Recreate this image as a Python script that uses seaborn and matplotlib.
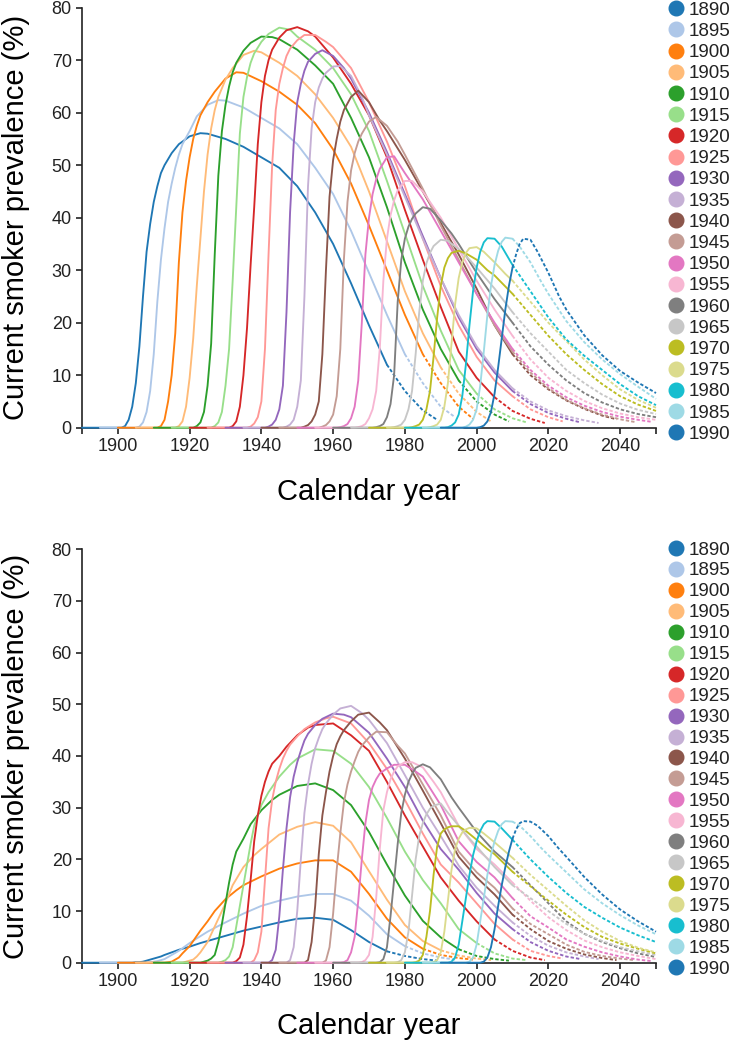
import pandas as pd
import matplotlib
matplotlib.use("Agg")
import matplotlib.pyplot as plt
from matplotlib.lines import Line2D
import seaborn as sns

# ---------- data ----------
cohorts = [1890, 1895, 1900, 1905, 1910, 1915, 1920, 1925, 1930, 1935, 1940,
           1945, 1950, 1955, 1960, 1965, 1970, 1975, 1980, 1985, 1990]

# age at which each value is read (calendar year = cohort + age)
ages = [0, 10, 11, 12, 13, 14, 15, 16, 17, 18, 19, 20, 21, 22, 23,
        25, 27, 30, 33, 35, 40, 45, 50, 55, 60, 65, 70, 75, 80, 85, 90, 95, 99]

# upper panel, prevalence (%): age 0 | ages 10-23 | 25 27 30 33 35 | 40 ... 99
top = {
    1890: [0, 0, 0, 0.3, 1.5, 4, 8.5, 15.5, 25, 33.5, 38.8, 43, 46, 48.5, 50,
           52.3, 54, 55.5, 56.1, 56, 55, 53.5, 51.5, 49.5, 46, 41, 35, 27.5, 19.5, 12, 7, 3.3, 1.5],
    1895: [0, 0, 0.2, 1, 3, 7, 14, 24, 32, 38, 43, 46.5, 49.5, 52, 54,
           56.5, 59.3, 61.5, 62.4, 62.3, 61, 59, 57, 54, 49.5, 44.5, 37.5, 29.5, 21.5, 14, 8.5, 4, 2],
    1900: [0, 0, 0, 0.3, 1.5, 5, 10, 18, 31.5, 41, 47, 51.5, 55, 57.5, 59.5,
           62, 64, 66.5, 67.7, 67.6, 66, 64, 61.5, 58, 53, 46.5, 38.5, 30, 21.5, 14, 8.5, 4, 1.7],
    1905: [0, 0, 0, 0.3, 1.2, 4, 9.5, 17, 27, 36, 45, 52, 57, 60.5, 63,
           66.3, 68.5, 71, 71.8, 71.5, 69.5, 67, 63.5, 59, 53.5, 45, 35.5, 26, 18, 11.5, 6.5, 3, 1.2],
    1910: [0, 0, 0, 0.3, 1, 3, 8, 16, 33, 48, 56.5, 61.5, 65, 67.7, 69.5,
           71.8, 73.3, 74.5, 74.4, 74, 72, 69, 65.5, 59, 51.5, 42, 31.5, 22.5, 15, 9, 5, 2.5, 1.2],
    1915: [0, 0, 0, 0.3, 1, 3, 8, 15, 28, 42, 56, 63, 66.8, 69.5, 71.3,
           73.5, 75, 76.2, 75.8, 74.5, 72, 68.5, 63.5, 56.5, 47, 37, 27, 18.5, 11, 6.5, 3.5, 1.8, 1],
    1920: [0, 0, 0, 0.3, 1.2, 4, 10, 19, 31, 42, 54, 62, 67, 70, 72,
           74.3, 75.7, 76.3, 75.5, 74.5, 70.5, 65.5, 59.5, 51.5, 41.5, 32, 23, 14.5, 9.5, 5.8, 3.2, 1.7, 0.9],
    1925: [0, 0, 0, 0.2, 0.8, 2, 5, 15, 33, 50, 60.5, 65.5, 68.5, 70.8, 72.2,
           73.8, 74.8, 74.8, 73.5, 72.5, 68.5, 62, 54.5, 46, 36, 27, 19.5, 13.5, 9, 6, 3.5, 2, 1.2],
    1930: [0, 0, 0, 0.2, 0.6, 1.5, 3.5, 8, 22, 41, 54, 62, 65.5, 68, 69.7,
           71.2, 71.9, 70.8, 68.5, 66.5, 60, 52.5, 44.5, 36.5, 28.5, 21, 15, 10.5, 7, 4.5, 2.8, 1.7, 1],
    1935: [0, 0, 0, 0.2, 0.6, 1.5, 4, 9, 25, 46, 57, 62, 64.8, 66.5, 67.6,
           68.8, 68.9, 67, 63, 59.5, 52, 44, 36, 28.5, 21.5, 15.5, 11, 7.5, 5, 3.3, 2.2, 1.4, 0.9],
    1940: [0, 0, 0, 0.2, 0.5, 1.2, 2.5, 5, 14, 30, 44, 51, 55, 58.3, 60.5,
           63, 64.2, 62, 58.5, 56.5, 51, 45, 39, 33, 26.5, 19.5, 14, 10, 7.3, 5.2, 3.6, 2.3, 1.6],
    1945: [0, 0, 0, 0.2, 0.5, 1.2, 2.5, 6, 15, 32, 43, 49, 52.3, 54.5, 56,
           58.3, 59.2, 57.5, 54.5, 52, 45.5, 38.5, 32, 25.5, 19.5, 14.5, 10.5, 7.5, 5.3, 3.7, 2.5, 1.6, 1.1],
    1950: [0, 0, 0, 0.1, 0.3, 0.7, 1.8, 4, 9, 20, 33, 40, 44.5, 47.3, 49.3,
           51.5, 51.7, 48.5, 45.5, 43.5, 37.5, 31.5, 25.5, 20, 15, 11, 8, 5.8, 4.2, 3, 2.1, 1.5, 1.1],
    1955: [0, 0, 0, 0.1, 0.3, 0.7, 1.8, 3.5, 7, 15, 28, 36, 40.5, 43.3, 45.2,
           47, 47, 45, 42, 40, 34, 28, 22.5, 17.5, 13, 9.5, 7, 5.1, 3.7, 2.7, 2, 1.5],
    1960: [0, 0, 0, 0.1, 0.3, 0.7, 2, 4.5, 10, 24, 32, 36, 38.3, 39.8, 40.8,
           42, 41.7, 39.5, 37, 35, 29.5, 24.5, 20, 15.5, 12, 9, 6.6, 4.8, 3.5, 2.6, 2],
    1965: [0, 0, 0, 0.1, 0.3, 0.6, 1.5, 3.5, 7, 14, 22, 28, 31.3, 33.3, 34.6,
           35.8, 35.6, 34, 32, 30.5, 26.5, 22, 18, 14.5, 11, 8.5, 6.3, 4.6, 3.4, 2.6],
    1970: [0, 0, 0, 0.1, 0.3, 0.6, 1.5, 3.5, 7, 13.5, 21, 27, 30.5, 32.3, 33.3,
           33.7, 33.2, 32, 30, 29, 25.5, 21.5, 17.5, 14, 11, 8.3, 6, 4.4, 3.2],
    1975: [0, 0, 0, 0.1, 0.3, 0.6, 1.5, 4, 8.5, 16, 23.5, 28.5, 31.5, 33.3, 34.2,
           34.4, 33.5, 31.5, 29.3, 28, 24, 20, 16.5, 13, 10, 7.3, 5.3, 3.8],
    1980: [0, 0, 0, 0.1, 0.4, 1, 2.5, 6, 12, 19.5, 26, 30.5, 33.5, 35.3, 36.1,
           36, 34.5, 31, 28, 26, 21, 16.8, 13.7, 11, 8.3, 6, 4.3],
    1985: [0, 0, 0, 0.2, 0.6, 1.5, 3.5, 8, 14.5, 21.5, 27, 31, 33.7, 35.4, 36.2,
           36, 34.5, 31.5, 27.8, 25.5, 20.3, 16.3, 13, 10.2, 7.8, 5.5],
    1990: [0, 0, 0.1, 0.4, 1.2, 3, 6.5, 11.5, 17, 22.5, 27, 30.5, 33, 35, 36,
           35.8, 33.5, 29.5, 25, 22.5, 17.6, 13.8, 10.8, 8.6, 6.6],
}

# lower panel, prevalence (%): same ages
bottom = {
    1890: [0, 0, 0, 0, 0, 0, 0.1, 0.1, 0.2, 0.4, 0.6, 0.8, 1, 1.2, 1.5,
           2, 2.5, 3.1, 3.8, 4.2, 5.2, 6.2, 7, 7.8, 8.5, 8.7, 8.3, 6.3, 4, 2.2, 1.3, 0.7, 0.4],
    1895: [0, 0, 0, 0, 0, 0.1, 0.2, 0.3, 0.5, 0.7, 1.1, 1.5, 1.9, 2.3, 2.8,
           3.8, 4.7, 6, 7.1, 7.8, 9.5, 11, 12, 12.8, 13.3, 13.3, 12, 9.1, 5.5, 3.2, 1.8, 1, 0.6],
    1900: [0, 0, 0, 0, 0, 0.1, 0.2, 0.6, 1, 1.8, 2.5, 3.2, 4.2, 5.2, 6.2,
           8, 10, 12.3, 14, 15, 16.7, 18.2, 19.2, 19.8, 19.8, 17.6, 13.3, 8.5, 4.9, 2.7, 1.5, 0.9, 0.6],
    1905: [0, 0, 0, 0, 0, 0.2, 0.4, 0.6, 1.2, 2, 3, 4, 5.5, 7, 8.5,
           11.5, 15, 18.5, 20.8, 22, 24.8, 26.3, 27.2, 26.5, 23.3, 17.7, 12.2, 7.3, 4.2, 2.4, 1.4, 0.8, 0.5],
    1910: [0, 0, 0, 0, 0, 0.2, 0.4, 0.8, 1.5, 4, 7.5, 11.5, 15.5, 19, 21.5,
           24, 26.8, 29.5, 31.5, 32.5, 34.2, 34.7, 33.4, 30.5, 25.3, 19, 13, 8.1, 4.9, 2.6, 1.3, 0.7, 0.4],
    1915: [0, 0, 0, 0, 0, 0.2, 0.5, 1.2, 3, 7, 11, 15, 19, 23, 26.5,
           30.5, 33, 36, 38.3, 39.5, 41.3, 41, 38.5, 34, 28, 21.5, 16, 11.5, 6.5, 3.8, 1.8, 0.8, 0.5],
    1920: [0, 0, 0, 0, 0.3, 1, 3.5, 9, 16, 23.5, 28.5, 32.3, 35, 37, 38.5,
           40, 41.8, 44, 45.5, 46, 46.3, 44, 41, 35, 28.5, 22.5, 16.5, 12, 8, 4.5, 2.3, 1, 0.5],
    1925: [0, 0, 0, 0, 0.5, 2, 6, 16, 26, 31.5, 35, 37.5, 39.5, 41, 42.2,
           43.8, 45.2, 46.5, 47.3, 47.6, 46.3, 42.5, 37.5, 31.5, 25, 19, 15.5, 11.5, 7.5, 4.5, 2.3, 1.3, 0.8],
    1930: [0, 0, 0, 0, 0.5, 2.5, 9, 18, 26, 32, 36, 38.8, 41, 43, 44.3,
           46, 47.2, 48.2, 48, 47.5, 44.5, 39.5, 34, 27.5, 22, 18, 13.5, 9.5, 6.5, 4, 2.3, 1.2, 0.7],
    1935: [0, 0, 0, 0, 0.5, 3, 10, 20, 29, 34.5, 38.5, 41.5, 43.5, 45.2, 46.3,
           48, 49.2, 49.7, 48.3, 47, 42.5, 36.3, 30, 24.5, 18.8, 14.5, 11, 7.8, 5.2, 3.3, 2, 1.2, 0.7],
    1940: [0, 0, 0, 0, 0.5, 4, 11, 21, 28.5, 33, 37, 40, 42.3, 43.8, 45,
           46.7, 48, 48.4, 46.5, 45, 39.5, 33.3, 27, 20.5, 16.5, 13.2, 9.3, 6.5, 4.2, 2.7, 1.6, 0.9, 0.5],
    1945: [0, 0, 0, 0, 0.4, 3, 9.5, 18, 25, 31, 34.5, 37, 39, 40.8, 42,
           43.6, 44.7, 44.6, 42, 40.5, 34.5, 28.5, 21.5, 17.5, 14.5, 10.5, 7.5, 5.5, 3.5, 2.1, 1.3, 0.8, 0.5],
    1950: [0, 0, 0, 0, 0.1, 0.5, 2, 5, 12, 20, 27, 31.5, 34, 35.5, 36.6,
           37.6, 38.3, 38.3, 37, 36, 30.5, 23.5, 19.5, 16.5, 12.5, 9, 6.8, 4.5, 3.1, 2, 1.2, 0.6, 0.3],
    1955: [0, 0, 0, 0, 0.1, 0.5, 1.5, 5, 12.5, 22, 29.5, 33, 35.5, 37, 38,
           38.8, 38.8, 37.8, 35, 33, 26.5, 22, 19, 15.5, 12, 8.8, 6.3, 4.3, 3, 2, 1.3, 0.7],
    1960: [0, 0, 0, 0, 0.1, 0.7, 3, 9, 16, 23, 29, 32.5, 35, 36.5, 37.7,
           38.4, 37.8, 35.5, 32, 30, 25.3, 21.5, 18.5, 15, 11.5, 8, 5.6, 4, 2.8, 1.8, 1.1],
    1965: [0, 0, 0, 0, 0.1, 0.5, 2, 6, 13, 20, 24.5, 27, 28.7, 29.8, 30.4,
           30.8, 29, 26.5, 24, 22.5, 18.5, 15, 12.5, 10, 7.5, 5.6, 4.2, 3, 2.2, 1.5],
    1970: [0, 0, 0, 0, 0.1, 0.4, 1.5, 5, 10, 17, 22.5, 25, 25.8, 26.2, 26.4,
           26.4, 25.5, 23.8, 22, 21, 17.6, 14.8, 12, 9.3, 6.9, 5, 3.7, 2.7, 1.8],
    1975: [0, 0, 0, 0, 0.1, 0.5, 2, 6, 12, 18, 22, 24, 25.2, 25.8, 26.1,
           26, 25, 23.3, 21.5, 20.3, 17, 14, 11, 8.2, 6, 4.2, 2.9, 2],
    1980: [0, 0, 0, 0, 0.2, 1, 3.5, 8, 12.5, 17, 20.8, 23.5, 25.5, 26.8, 27.4,
           27.3, 26, 23.8, 21.5, 20, 16.6, 13.5, 10.8, 8.7, 6.8, 5.3, 4],
    1985: [0, 0, 0, 0, 0.2, 1, 3.5, 8, 12.5, 17, 20.8, 23.5, 25.5, 26.8, 27.4,
           27.3, 26.5, 24.5, 22.2, 20.8, 17.5, 14.2, 11.5, 9.2, 7.2, 5.5],
    1990: [0, 0, 0, 0.2, 1, 3, 6.5, 11, 15, 18.5, 21.5, 24, 25.8, 27, 27.4,
           27.3, 26.5, 24.5, 22, 20.5, 16.6, 13.2, 10.3, 8, 6],
}

last_observed_year = 2010
last_observed_age = 85

# ---------- styling ----------
sns.set_style("ticks")
plt.rcParams["font.family"] = ["Liberation Sans", "DejaVu Sans"]

tab20 = sns.color_palette("tab20", 20)
palette = {str(c): tab20[i % 20] for i, c in enumerate(cohorts)}
hue_order = [str(c) for c in cohorts]
ink = "#222222"


def long_table(values):
    rows = []
    for c in cohorts:
        cut = min(c + last_observed_age, last_observed_year)
        for a, v in zip(ages, values[c]):
            y = c + a
            if y <= cut:
                rows.append((c, y, v, "observed"))
            if y >= cut:
                rows.append((c, y, v, "projected"))
    df = pd.DataFrame(rows, columns=["cohort", "year", "prevalence", "part"])
    df["cohort"] = df["cohort"].astype(str)
    return df


fig = plt.figure(figsize=(7.31, 10.5), dpi=100)
W, H = 731, 1050
# (values, axes top px, axes bottom px, first legend row px, legend row spacing)
panels = [(top, 7.7, 427.7, 8.3, 0.217), (bottom, 549.3, 962.7, 548.0, 0.204)]

for values, ytop, ybot, leg_y, leg_sp in panels:
    ax = fig.add_axes([82 / W, 1 - ybot / H, (656 - 82) / W, (ybot - ytop) / H])
    df = long_table(values)
    sns.lineplot(data=df, x="year", y="prevalence", hue="cohort", hue_order=hue_order,
                 style="part", style_order=["observed", "projected"],
                 dashes={"observed": "", "projected": (1.8, 1.1)},
                 palette=palette, estimator=None, sort=True, legend=False,
                 linewidth=1.35, ax=ax, zorder=3, clip_on=False)

    ax.set_xlim(1890, 2050)
    ax.set_ylim(0, 80)
    ax.set_xticks(range(1900, 2041, 20))
    ax.set_xticks([1890, 2050], minor=True)
    ax.set_yticks(range(0, 81, 10))
    ax.tick_params(axis="both", which="both", direction="out", length=4.3, width=1.2,
                   color=ink, labelcolor=ink, labelsize=13, pad=3)
    sns.despine(ax=ax)
    for s in ("left", "bottom"):
        ax.spines[s].set_color(ink)
        ax.spines[s].set_linewidth(1.2)

    ax.set_xlabel("Calendar year", fontsize=21, color="black")
    ax.xaxis.set_label_coords(0.5, -0.153)
    ax.xaxis.label.set_va("center")
    ax.set_ylabel("Current smoker prevalence (%)", fontsize=21, color="black")
    ax.yaxis.set_label_coords(-0.115, 0.5)
    ax.yaxis.label.set_va("center")

    handles = [Line2D([], [], linestyle="none", marker="o", markersize=10.5,
                      markerfacecolor=palette[c], markeredgecolor=palette[c])
               for c in hue_order]
    top_px = leg_y - 6.6
    ax.legend(handles, hue_order, loc="upper left", frameon=False,
              bbox_to_anchor=(667 / W, 1 - top_px / H), bbox_transform=fig.transFigure,
              borderpad=0, borderaxespad=0, handlelength=1.0, handletextpad=0.15,
              labelspacing=leg_sp, fontsize=13.5, labelcolor=ink)

fig.savefig("out.png", dpi=100)
